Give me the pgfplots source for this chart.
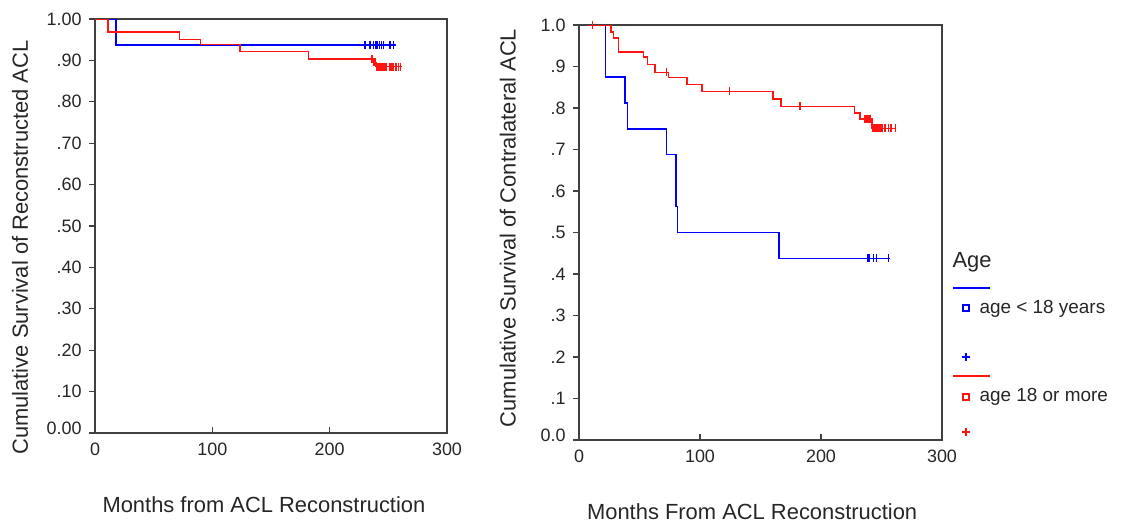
\documentclass[border=0pt]{standalone}
\usepackage{fontspec}
\setmainfont{Liberation Sans}
\usepackage{pgfplots}
\pgfplotsset{compat=1.18}
\definecolor{axgray}{RGB}{64,64,64}
\definecolor{kmred}{RGB}{255,20,20}
\definecolor{kmblue}{RGB}{0,0,255}
\pgfplotsset{km/.style={
  scale only axis,
  xmin=0,xmax=300,ymin=0,ymax=1,
  xtick={0,100,200,300}, xticklabels={0,100,200,300},
  ytick={0,0.1,0.2,0.3,0.4,0.5,0.6,0.7,0.8,0.9,1},
  xtick pos=bottom, ytick pos=left,
  xtick align=inside, ytick align=outside,
  major tick length=6bp,
  axis line style={axgray, line width=1.2bp},
  every tick/.style={axgray, line width=1.2bp},
  tick label style={font=\fontsize{18}{20}\selectfont, text=black!85},
  label style={font=\fontsize{22}{24}\selectfont, text=black!85},
  xticklabel style={yshift=-6bp},
  yticklabel style={xshift=-4bp},
  /pgf/number format/assume math mode=true,
}}
\pgfplotsset{curve/.style={const plot, line width=1.5bp, no marks},
  cens/.style={only marks, mark=|, mark size=4bp, mark options={line width=1.4bp}}}
\begin{document}
\begin{tikzpicture}
\useasboundingbox (0bp,0bp) rectangle (1125bp,-528bp);
\begin{axis}[km, at={(95bp,-433bp)}, anchor=south west, width=352bp, height=414bp,
  yticklabels={\raisebox{9bp}{0.00},.10,.20,.30,.40,.50,.60,.70,.80,.90,1.00},
  xlabel={Months from ACL Reconstruction},
  ylabel={Cumulative Survival of Reconstructed ACL},
  xlabel style={at={(axis description cs:0.48,-0.174)}, anchor=center},
  ylabel style={at={(axis description cs:-0.213,0.448)}, anchor=center}]
\addplot[curve, kmblue] coordinates {(0,1)(18,0.9375)(256.6,0.9375)};
\addplot[cens, kmblue] coordinates {(230,0.9375)(234.4,0.9375)(237.3,0.9375)(239.4,0.9375)(240.7,0.9375)(242.4,0.9375)(244.4,0.9375)(245.8,0.9375)(251.5,0.9375)(254.3,0.9375)};
\addplot[curve, kmred] coordinates {(0,1)(11,0.968)(72,0.951)(90,0.939)(123.6,0.921)(182,0.903)(237,0.895)(239.5,0.885)(261.5,0.885)};
\addplot[cens, kmred] coordinates {(236,0.903)(237.5,0.895)(238.5,0.895)(240,0.885)(241,0.885)(242,0.885)(243,0.885)(244,0.885)(245,0.885)(246,0.885)(247,0.885)(248,0.885)(251.5,0.885)(252.5,0.885)(253.5,0.885)(254.5,0.885)(256,0.885)(257,0.885)(258.6,0.885)(260.6,0.885)};
\end{axis}
\begin{axis}[km, at={(579bp,-440bp)}, anchor=south west, width=363bp, height=415bp,
  yticklabels={\raisebox{9bp}{0.0},.1,.2,.3,.4,.5,.6,.7,.8,.9,1.0},
  xlabel={Months From ACL Reconstruction},
  ylabel={Cumulative Survival of Contralateral ACL},
  xlabel style={at={(axis description cs:0.477,-0.1735)}, anchor=center},
  ylabel style={at={(axis description cs:-0.196,0.511)}, anchor=center}]
\addplot[curve, kmblue] coordinates {(7.5,1)(22,0.875)(38,0.8125)(40,0.75)(72.2,0.6875)(80.2,0.5625)(81.3,0.5)(165.4,0.4375)(257,0.4375)};
\addplot[cens, kmblue] coordinates {(238.8,0.4375)(239.5,0.4375)(240.3,0.4375)(243.5,0.4375)(246,0.4375)(255.8,0.4375)};
\addplot[curve, kmred] coordinates {(7.5,1)(26.5,0.983)(28.4,0.969)(32.5,0.935)(53.2,0.923)(56.8,0.905)(62.9,0.886)(73.9,0.874)(89.1,0.857)(101.5,0.840)(160.2,0.822)(167.1,0.804)(227.7,0.788)(232.4,0.774)(242,0.751)(261.4,0.751)};
\addplot[cens, kmred] coordinates {(11.3,1)(72.5,0.886)(124.3,0.840)(182.8,0.804)(236.5,0.774)(237.5,0.774)(238.5,0.774)(239.5,0.774)(240.5,0.774)(242.5,0.751)(243.5,0.751)(244.5,0.751)(245.5,0.751)(246.5,0.751)(247.5,0.751)(248.5,0.751)(249.5,0.751)(250.4,0.751)(253,0.751)(255.8,0.751)(257.8,0.751)(261.4,0.751)};
\end{axis}
% legend
\node[anchor=west, font=\fontsize{22}{24}\selectfont, text=black!85] at (949bp,-262bp) {Age};
\draw[kmblue, line width=1.5bp] (953bp,-288bp) -- (990bp,-288bp);
\draw[kmblue, line width=1.3bp] (963bp,-305bp) rectangle (969bp,-311bp);
\node[anchor=west, font=\fontsize{19}{21}\selectfont, text=black!85] at (976bp,-309bp) {age < 18 years};
\draw[kmblue, line width=1.3bp] (962bp,-357bp) -- (970bp,-357bp) (966bp,-353bp) -- (966bp,-361bp);
\draw[kmred, line width=1.5bp] (953bp,-376bp) -- (990bp,-376bp);
\draw[kmred, line width=1.3bp] (963bp,-394bp) rectangle (969bp,-400bp);
\node[anchor=west, font=\fontsize{19}{21}\selectfont, text=black!85] at (976bp,-397bp) {age 18 or more};
\draw[kmred, line width=1.3bp] (962bp,-432bp) -- (970bp,-432bp) (966bp,-428bp) -- (966bp,-436bp);
\end{tikzpicture}
\end{document}
